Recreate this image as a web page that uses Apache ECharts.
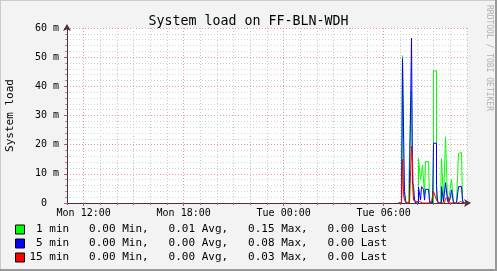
<!DOCTYPE html>
<html>
<head>
<meta charset="utf-8">
<script src="https://cdn.jsdelivr.net/npm/echarts@6/dist/echarts.min.js"></script>
<style>
html,body{margin:0;padding:0;background:#f3f3f3;}
#c{width:497px;height:271px;}
</style>
</head>
<body>
<div id="c"></div>
<script>
// ---- data (load in milli-units) ----
var title = 'System load on FF-BLN-WDH';
var yTitle = 'System load';
// regular RRD samples: start time in minutes after Mon 00:00, step in minutes
var sampleStart = 1853.4;
var sampleStep = 3.6;
var load1  = [0,0,0,0,50.5,4,3,0,0,0,0,17.8,17.8,38.5,5,2,1,0,0,0,15.3,15.3,8,9.8,13,13,3,14.2,14.2,14.2,14.2,1,0,0,0,45.3,45.3,45.3,2,0,0,0,0,15.3,15.3,0.5,0,22.7,22.7,1,0,0,6,8.1,8.1,0,0,0,0,0,17,17,17.3,17.5,1,0,0,0,0,0];
var load5  = [0,0,0,0,49.5,26,4,1,0,0,0,6.7,6.7,56.5,6.7,6,1,0,0,0,5.4,5.4,1,5.6,5,4.7,1,4.7,4.7,4.7,4.7,0.5,0,0,0,20.5,20.5,20.5,6,1,0,0,0,5.6,5.6,0.5,0,7,7,1,0,0,2,4.5,4.5,0,0,0,0,0,5.6,5.6,5.6,5.6,1,0,0,0,0,0];
var load15 = [0,0,0,0,15,3,1,0.5,0,0,0,0,0,19.5,14,1,0.5,0.5,0,0,0.5,0.5,0.5,0,0,0,0,0,0,0,0,0,0.5,0,0,4,4,2,1,1,0,0,0,0,0,0,0,1.5,1.5,2,0,0,0,0,0,0,0,0,0,0,0.5,0.5,0.5,0.5,0,0,0,0,0,0];
// axis extent (minutes after Mon 00:00)
var xMin = 660, xMax = 2100;
var xLabelValues = [720, 1080, 1440, 1800];
var xLabelTexts = {720:'Mon 12:00', 1080:'Mon 18:00', 1440:'Tue 00:00', 1800:'Tue 06:00'};
var yMin = 0, yMax = 60, yStep = 10;
// legend
var seriesNames = ['1 min', '5 min', '15 min'];
var seriesColors = ['#00ff00', '#0000ff', '#ff0000'];
var statMin  = ['0.00', '0.00', '0.00'];
var statAvg  = ['0.01', '0.00', '0.00'];
var statMax  = ['0.15', '0.08', '0.03'];
var statLast = ['0.00', '0.00', '0.00'];

function pad(s, n){ while(s.length < n) s = ' ' + s; return s; }
function toPairs(vals){
  var out = [];
  for (var i = 0; i < vals.length; i++) out.push([sampleStart + i*sampleStep, vals[i]]);
  return out;
}
var allVals = [load1, load5, load15];

var mono = 'DejaVu Sans Mono';
var chart = echarts.init(document.getElementById('c'), null, {renderer:'canvas'});
var series = [];
for (var k = 0; k < 3; k++) {
  series.push({
    name: seriesNames[k], type: 'line', step: 'end', xAxisIndex: 0,
    data: toPairs(allVals[k]), showSymbol: false, symbol: 'none',
    color: seriesColors[k],
    lineStyle: {width: 1, color: seriesColors[k]},
    z: 10 + k, animation: false
  });
}

var option = {
  backgroundColor: '#f3f3f3',
  animation: false,
  title: {
    text: title, left: 'center', top: 10,
    textStyle: {fontFamily: mono, fontSize: 13.3, fontWeight: 'normal', color: '#000'}
  },
  legend: {
    orient: 'vertical', left: 15, top: 224, itemGap: 3, padding: 0,
    itemWidth: 9, itemHeight: 9, icon: 'rect', selectedMode: false,
    itemStyle: {borderColor: '#000', borderWidth: 1},
    textStyle: {fontFamily: mono, fontSize: 11, color: '#000', lineHeight: 11},
    data: seriesNames,
    formatter: function(name){
      var i = seriesNames.indexOf(name);
      return pad(name, 6) + '   ' + statMin[i] + ' Min,   ' + statAvg[i] + ' Avg,   ' + statMax[i] + ' Max,   ' + statLast[i] + ' Last';
    }
  },
  grid: {left: 67, top: 28, width: 400, height: 175, show: true, backgroundColor: '#ffffff', borderWidth: 0,
    containLabel: false, outerBoundsMode: 'none'},
  xAxis: [{
    type: 'value', min: xMin, max: xMax, interval: 60,
    axisLine: {show: true, lineStyle: {color: '#4a3030', width: 1}, symbol: ['none', 'arrow'], symbolSize: [6, 7], symbolOffset: [0, 4]},
    axisTick: {show: true, length: 2, inside: false, lineStyle: {color: '#9a6a6a'}},
    axisLabel: {show: false},
    splitLine: {show: true, lineStyle: {color: '#c8c8c8', type: [1, 2], width: 1}}
  }, {
    type: 'value', min: xMin, max: xMax, position: 'bottom',
    axisLine: {show: false},
    axisTick: {show: true, length: 3, customValues: xLabelValues, lineStyle: {color: '#d05050'}},
    axisLabel: {show: true, customValues: xLabelValues, margin: 5,
      fontFamily: mono, fontSize: 10, color: '#000',
      formatter: function(v){ return xLabelTexts[v] || ''; }},
    splitLine: {show: true, lineStyle: {color: '#e49a9a', type: [1, 2], width: 1}}
  }],
  yAxis: {
    type: 'value', min: yMin, max: yMax, interval: yStep,
    name: yTitle, nameLocation: 'middle', nameGap: 57, nameRotate: 90, nameMoveOverlap: false,
    nameTextStyle: {fontFamily: mono, fontSize: 11, color: '#000', align: 'center', verticalAlign: 'middle'},
    axisLine: {show: true, lineStyle: {color: '#4a3030', width: 1}, symbol: ['none', 'arrow'], symbolSize: [6, 7], symbolOffset: [0, 4]},
    axisTick: {show: true, length: 3, lineStyle: {color: '#d05050'}},
    minorTick: {show: true, splitNumber: 5, length: 2, lineStyle: {color: '#999'}},
    axisLabel: {margin: 8, fontFamily: mono, fontSize: 10, color: '#000',
      formatter: function(v){ return v === 0 ? '0  ' : v + ' m'; }},
    splitLine: {show: true, lineStyle: {color: '#e49a9a', type: [1, 2], width: 1}},
    minorSplitLine: {show: true, lineStyle: {color: '#d4d4d4', type: [1, 2], width: 1}}
  },
  graphic: [
    {type: 'rect', shape: {x: 0, y: 0, width: 497, height: 1}, style: {fill: '#cbcbcb'}, silent: true},
    {type: 'rect', shape: {x: 0, y: 0, width: 1, height: 271}, style: {fill: '#cbcbcb'}, silent: true},
    {type: 'rect', shape: {x: 0, y: 269, width: 497, height: 2}, style: {fill: '#999999'}, silent: true},
    {type: 'rect', shape: {x: 495, y: 0, width: 2, height: 271}, style: {fill: '#999999'}, silent: true},
    {type: 'text', x: 493, y: 5, rotation: -Math.PI/2,
      style: {text: 'RRDTOOL / TOBI OETIKER', fontFamily: mono, fontSize: 8, fill: '#b0b0b0', textAlign: 'left', textVerticalAlign: 'top'},
      silent: true}
  ],
  series: series
};
chart.setOption(option);
</script>
</body>
</html>
